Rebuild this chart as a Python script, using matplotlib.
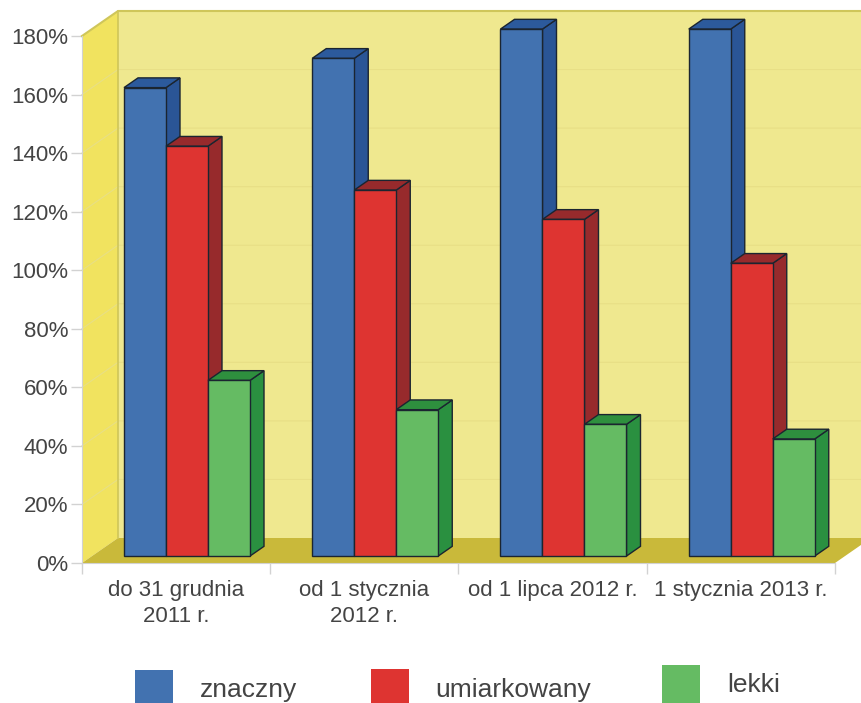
import matplotlib
matplotlib.use("Agg")
import matplotlib.pyplot as plt
from matplotlib.patches import Polygon, Rectangle

plt.rcParams['font.family'] = ['Liberation Sans', 'DejaVu Sans']

categories = ["do 31 grudnia\n2011 r.", "od 1 stycznia\n2012 r.", "od 1 lipca 2012 r.", "1 stycznia 2013 r."]
znaczny = [160, 170, 180, 180]
umiarkowany = [140, 125, 115, 100]
lekki = [60, 50, 45, 40]
series_names = ["znaczny", "umiarkowany", "lekki"]
y_ticks = [0, 20, 40, 60, 80, 100, 120, 140, 160, 180]

W, H = 862, 703
fig = plt.figure(figsize=(W / 100, H / 100), dpi=100, facecolor="white")
ax = fig.add_axes([82 / W, (H - 563) / H, 753 / W, 527 / H])
ax.set_xlim(0, 4)
ax.set_ylim(0, 180)
ax.patch.set_visible(False)

DX, DY = 36 / 188.25, 25 / (527 / 180)   # wall depth in data units
YMAX, XMAX = 180, 4


def P(x, v, d=0.0):
    return (x + d * DX, v + d * DY)


def poly(pts, fc, ec="none", lw=0, z=1):
    ax.add_patch(Polygon(pts, closed=True, facecolor=fc, edgecolor=ec, linewidth=lw,
                         clip_on=False, zorder=z, joinstyle="miter"))


# walls and floor
poly([P(0, 0), P(0, YMAX), P(0, YMAX, 1), P(0, 0, 1)], "#F1E35F")
poly([P(0, 0, 1), P(0, YMAX, 1), P(XMAX, YMAX, 1), P(XMAX, 0, 1)], "#EFE88F")
poly([P(0, 0), P(0, 0, 1), P(XMAX, 0, 1), P(XMAX, 0)], "#C9B93A")
for t in y_ticks[1:]:
    c = "#CFC65A" if t == YMAX else "#E8DF86"
    lw = 1.5 if t == YMAX else 0.8
    ax.plot(*zip(P(0, t), P(0, t, 1), P(XMAX, t, 1)), color=c, lw=lw, clip_on=False, zorder=2)
ax.plot(*zip(P(0, 0, 1), P(0, YMAX, 1)), color="#CFC65A", lw=1.2, zorder=2, clip_on=False)

# bars
BAR_W = 42 / 188.25
START = 32 / 188.25
D0, D1 = 10 / 36, 24 / 36
EDGE = "#1B2530"
styles = [("#4272B0", "#2C5A9C", "#2A5596"),
          ("#DE3431", "#972A2C", "#972A2C"),
          ("#65BB63", "#2E8F3E", "#2A9040")]
z = 3
for i in range(len(categories)):
    for j, vals in enumerate([znaczny, umiarkowany, lekki]):
        v = vals[i]
        l = i + START + j * BAR_W
        r = l + BAR_W
        front, top, side = styles[j]
        poly([P(r, 0, D0), P(r, v, D0), P(r, v, D1), P(r, 0, D1)], side, EDGE, 1, z)
        poly([P(l, v, D0), P(l, v, D1), P(r, v, D1), P(r, v, D0)], top, EDGE, 1, z)
        poly([P(l, 0, D0), P(l, v, D0), P(r, v, D0), P(r, 0, D0)], front, EDGE, 1, z)
        z += 1

# axes
for s in ("top", "right"):
    ax.spines[s].set_visible(False)
for s in ("left", "bottom"):
    ax.spines[s].set_color("#D2D2D2")
    ax.spines[s].set_zorder(2.5)
ax.set_yticks(y_ticks)
ax.set_yticklabels([f"{t}%" for t in y_ticks], fontsize=16, color="#444444")
ax.set_xticks(range(5))
ax.set_xticklabels([])
ax.set_xticks([i + 0.5 for i in range(4)], minor=True)
ax.set_xticklabels(categories, minor=True, fontsize=16, color="#444444", linespacing=1.32)
ax.tick_params(axis="x", which="minor", length=0, pad=12)
ax.tick_params(axis="x", which="major", length=8, color="#D2D2D2", width=1)
ax.tick_params(axis="y", length=8, color="#D2D2D2", width=1, pad=2)

# legend
legend_items = [(135, 670, 38, "#4272B0", 200, 690, 0),
                (371, 669, 38, "#DE3431", 435, 690, 1),
                (662, 665, 38, "#65BB63", 727, 685, 2)]
for x, y, s, c, tx, ty, k in legend_items:
    fig.add_artist(Rectangle((x / W, 1 - (y + s) / H), s / W, s / H, transform=fig.transFigure,
                             facecolor=c, edgecolor="none"))
    fig.text(tx / W, 1 - ty / H, series_names[k], fontsize=19, color="#444444", va="center", ha="left")

fig.savefig("out.png", dpi=100)
